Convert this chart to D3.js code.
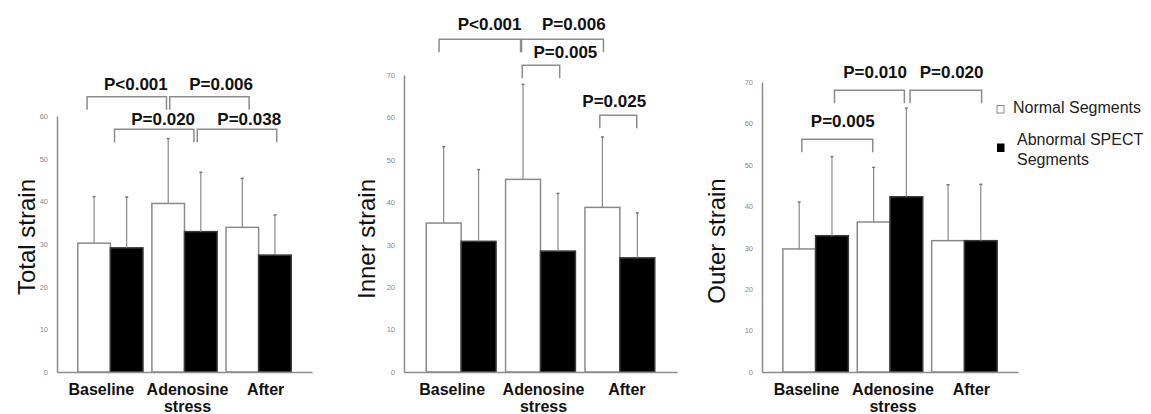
<!DOCTYPE html>
<html lang="en">
<head>
<meta charset="utf-8">
<title>Strain by segment</title>
<script src="https://d3js.org/d3.v7.min.js"></script>
<style>
  body { margin: 0; background: #fff; }
  svg { display: block; font-family: Arial, "Liberation Sans", sans-serif; }
  .tick text { font-size: 7.5px; fill: #8a8a8a; }
  .axis path { stroke: #8c8c8c; stroke-width: 1.5px; }
  .xlab { font-size: 16px; font-weight: bold; fill: #111; }
  .ptext { font-size: 17px; font-weight: bold; fill: #111; }
  .ytitle { font-size: 24px; fill: #111; }
  .legend text { font-size: 16px; fill: #222; }
</style>
</head>
<body>
<script>
// data
const categories = ["Baseline", "Adenosine stress", "After"];
const seriesNames = ["Normal Segments", "Abnormal SPECT Segments"];

const totalNormal = [30.2, 39.5, 33.9];
const totalNormalSD = [10.9, 15.2, 11.5];
const totalAbnormal = [29.1, 32.9, 27.4];
const totalAbnormalSD = [11.9, 13.9, 9.4];

const innerNormal = [35.1, 45.4, 38.8];
const innerNormalSD = [18.0, 22.4, 16.6];
const innerAbnormal = [30.8, 28.5, 26.9];
const innerAbnormalSD = [16.9, 13.6, 10.6];

const outerNormal = [29.7, 36.2, 31.7];
const outerNormalSD = [11.3, 13.2, 13.5];
const outerAbnormal = [32.9, 42.3, 31.7];
const outerAbnormalSD = [19.1, 21.4, 13.6];

const totalTicks = [0, 10, 20, 30, 40, 50, 60];
const innerTicks = [0, 10, 20, 30, 40, 50, 60, 70];
const outerTicks = [0, 10, 20, 30, 40, 50, 60, 70];

// p-value brackets: x in group steps (0 = start of first group), y in strain units
const totalP = [
  {label: "P<0.001", from: 0.126, to: 1.197, y: 64.5, tx: 0.784, ty: 66.1},
  {label: "P=0.006", from: 1.241, to: 2.312, y: 64.5, tx: 1.934, ty: 66.1},
  {label: "P=0.020", from: 0.496, to: 1.567, y: 56.9, tx: 1.152, ty: 57.9},
  {label: "P=0.038", from: 1.612, to: 2.684, y: 56.9, tx: 2.313, ty: 57.9}
];
const innerP = [
  {label: "P<0.001", from: 0.162, to: 1.189, y: 78.4, tx: 0.799, ty: 80.6},
  {label: "P=0.006", from: 1.201, to: 2.233, y: 78.4, tx: 1.860, ty: 80.6},
  {label: "P=0.005", from: 1.210, to: 1.682, y: 72.3, tx: 1.754, ty: 74.0},
  {label: "P=0.025", from: 2.187, to: 2.653, y: 60.5, tx: 2.369, ty: 62.5}
];
const outerP = [
  {label: "P=0.010", from: 0.694, to: 1.633, y: 68.0, tx: 1.240, ty: 71.0},
  {label: "P=0.020", from: 1.710, to: 2.671, y: 68.0, tx: 2.268, ty: 71.0},
  {label: "P=0.005", from: 0.255, to: 1.208, y: 56.2, tx: 0.805, ty: 59.1}
];

// layout
const w = 1151, h = 414;
const svg = d3.select("body").append("svg").attr("width", w).attr("height", h);

const panels = [
  {title: "Total strain", normal: totalNormal, normalSD: totalNormalSD, abnormal: totalAbnormal, abnormalSD: totalAbnormalSD,
   ticks: totalTicks, pvals: totalP, left: 57, right: 312, top: 116, bottom: 372, titleX: 35, titleY: 237},
  {title: "Inner strain", normal: innerNormal, normalSD: innerNormalSD, abnormal: innerAbnormal, abnormalSD: innerAbnormalSD,
   ticks: innerTicks, pvals: innerP, left: 404, right: 677, top: 75, bottom: 372, titleX: 375, titleY: 239},
  {title: "Outer strain", normal: outerNormal, normalSD: outerNormalSD, abnormal: outerAbnormal, abnormalSD: outerAbnormalSD,
   ticks: outerTicks, pvals: outerP, left: 762, right: 1018, top: 82, bottom: 372, titleX: 725, titleY: 241}
];

const labelNudge = [-9, 3, 7];
const legLen = 13;

function drawPanel(p) {
  const g = svg.append("g");

  const y = d3.scaleLinear()
    .domain([0, d3.max(p.ticks)])
    .range([p.bottom, p.top]);
  const x0 = d3.scaleBand()
    .domain(categories)
    .range([p.left, p.right])
    .paddingInner(0.12)
    .paddingOuter(0.28);
  const x1 = d3.scaleBand()
    .domain(seriesNames)
    .range([0, x0.bandwidth()]);
  const start = x0(categories[0]);
  const slot = d3.scaleLinear().domain([0, 3]).range([start, start + 3 * x0.step()]);

  const rows = [];
  categories.forEach(function(c, i) {
    rows.push({cat: c, s: seriesNames[0], v: p.normal[i], sd: p.normalSD[i]});
    rows.push({cat: c, s: seriesNames[1], v: p.abnormal[i], sd: p.abnormalSD[i]});
  });

  // bars
  g.selectAll("rect.bar")
    .data(rows)
    .enter()
    .append("rect")
    .attr("class", "bar")
    .attr("x", function(d) { return x0(d.cat) + x1(d.s); })
    .attr("y", function(d) { return y(d.v); })
    .attr("width", x1.bandwidth())
    .attr("height", function(d) { return y(0) - y(d.v); })
    .attr("fill", function(d) { return d.s === seriesNames[0] ? "#fff" : "#000"; })
    .attr("stroke", function(d) { return d.s === seriesNames[0] ? "#8a8a8a" : "#3a3a3a"; })
    .attr("stroke-width", 1.5);

  // error bars (upper only)
  const cx = function(d) { return x0(d.cat) + x1(d.s) + x1.bandwidth() / 2; };
  g.selectAll("line.err")
    .data(rows)
    .enter()
    .append("line")
    .attr("class", "err")
    .attr("x1", cx).attr("x2", cx)
    .attr("y1", function(d) { return y(d.v); })
    .attr("y2", function(d) { return y(d.v + d.sd); })
    .attr("stroke", "#8a8a8a")
    .attr("stroke-width", 1.2);
  g.selectAll("line.cap")
    .data(rows)
    .enter()
    .append("line")
    .attr("class", "cap")
    .attr("x1", function(d) { return cx(d) - 1.5; })
    .attr("x2", function(d) { return cx(d) + 1.5; })
    .attr("y1", function(d) { return y(d.v + d.sd); })
    .attr("y2", function(d) { return y(d.v + d.sd); })
    .attr("stroke", "#777")
    .attr("stroke-width", 1.5);

  // axes
  g.append("g")
    .attr("class", "axis")
    .attr("transform", `translate(${p.left},0)`)
    .call(d3.axisLeft(y).tickValues(p.ticks).tickSize(0).tickPadding(9));
  g.append("g")
    .attr("class", "axis")
    .attr("transform", `translate(0,${p.bottom})`)
    .call(d3.axisBottom(x0).tickSize(0).tickFormat(""));

  // category labels
  categories.forEach(function(c, i) {
    const t = g.append("text")
      .attr("class", "xlab")
      .attr("text-anchor", "middle")
      .attr("x", x0(c) + x0.bandwidth() / 2 + labelNudge[i])
      .attr("y", p.bottom + 23);
    c.split(" ").forEach(function(word, k) {
      t.append("tspan")
        .attr("x", x0(c) + x0.bandwidth() / 2 + labelNudge[i])
        .attr("dy", k === 0 ? 0 : 17)
        .text(word);
    });
  });

  // y title
  g.append("text")
    .attr("class", "ytitle")
    .attr("text-anchor", "middle")
    .attr("transform", `translate(${p.titleX},${p.titleY}) rotate(-90)`)
    .text(p.title);

  // p-value brackets
  const br = g.selectAll("g.br")
    .data(p.pvals)
    .enter()
    .append("g")
    .attr("class", "br");
  br.append("path")
    .attr("d", function(d) {
      const yy = y(d.y);
      return `M${slot(d.from)},${yy + legLen}V${yy}H${slot(d.to)}V${yy + legLen}`;
    })
    .attr("fill", "none")
    .attr("stroke", "#8c8c8c")
    .attr("stroke-width", 1.5);
  br.append("text")
    .attr("class", "ptext")
    .attr("text-anchor", "middle")
    .attr("x", function(d) { return slot(d.tx); })
    .attr("y", function(d) { return y(d.ty); })
    .text(function(d) { return d.label; });
}

panels.forEach(drawPanel);

// legend
const legend = svg.append("g").attr("class", "legend");
legend.append("rect")
  .attr("x", 997).attr("y", 105.5).attr("width", 7).attr("height", 7.5)
  .attr("fill", "#fff").attr("stroke", "#8a8a8a").attr("stroke-width", 1);
legend.append("text").attr("x", 1013).attr("y", 113).text(seriesNames[0]);
legend.append("rect")
  .attr("x", 997).attr("y", 143.5).attr("width", 7.5).attr("height", 8.5)
  .attr("fill", "#000");
legend.append("text").attr("x", 1017).attr("y", 145).text("Abnormal SPECT");
legend.append("text").attr("x", 1017).attr("y", 164.5).text("Segments");
</script>
</body>
</html>
